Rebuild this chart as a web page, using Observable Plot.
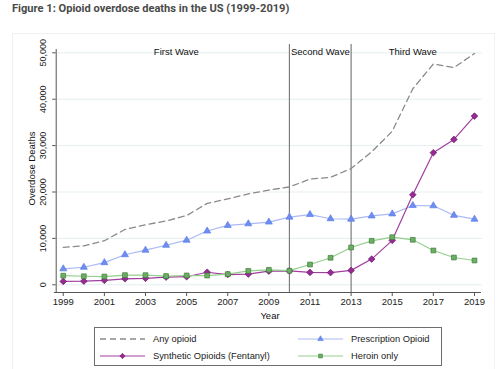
<!DOCTYPE html>
<html>
<head>
<meta charset="utf-8">
<script src="https://cdn.jsdelivr.net/npm/d3@7"></script>
<script src="https://cdn.jsdelivr.net/npm/@observablehq/plot@0.6"></script>
<style>
  body { margin: 0; background: #fff; width: 500px; height: 369px; overflow: hidden; position: relative;
         font-family: "Liberation Sans", Arial, Helvetica, sans-serif; }
  #title { position: absolute; left: 12px; top: 2px; font: bold 11.1px Roboto, "Noto Sans", sans-serif;
           color: #4a4a4a; white-space: nowrap; }
  #panel { position: absolute; left: 12px; top: 33px; width: 483px; height: 345px;
           border: 1px solid #eef2f3; box-sizing: border-box; }
  #chart { position: absolute; left: 12px; top: 33px; }
  #legend { position: absolute; left: 94px; top: 327px; width: 348px; height: 39px;
            border: 1px solid #6e6e6e; box-sizing: border-box; background: #fff; }
  .entry { position: absolute; height: 12px; display: flex; align-items: center;
           font-size: 9.3px; color: #1a1a1a; white-space: nowrap; }
  .entry svg { margin-right: 8px; }
</style>
</head>
<body>
<div id="title">Figure 1: Opioid overdose deaths in the US (1999-2019)</div>
<div id="panel"></div>
<div id="chart"></div>
<div id="legend"></div>
<script>
// Annual opioid overdose deaths in the US
const years = [1999, 2000, 2001, 2002, 2003, 2004, 2005, 2006, 2007, 2008, 2009,
               2010, 2011, 2012, 2013, 2014, 2015, 2016, 2017, 2018, 2019];
const anyOpioid = [8048, 8407, 9496, 11920, 12940, 13756, 14918, 17545, 18516, 19582, 20422,
                   21089, 22784, 23166, 25052, 28647, 33091, 42249, 47600, 46802, 49860];
const prescription = [3442, 3785, 4770, 6483, 7456, 8517, 9612, 11589, 12796, 13149, 13523,
                      14583, 15140, 14240, 14145, 14838, 15281, 17087, 17029, 14975, 14139];
const fentanyl = [730, 782, 957, 1295, 1400, 1664, 1742, 2707, 2213, 2306, 2946,
                  3007, 2666, 2628, 3105, 5544, 9580, 19413, 28466, 31335, 36359];
const heroinOnly = [1960, 1842, 1779, 2089, 2080, 1878, 2009, 1990, 2300, 3000, 3220,
                    3040, 4370, 5820, 8040, 9480, 10260, 9700, 7390, 5880, 5240];

const xTicks = [1999, 2001, 2003, 2005, 2007, 2009, 2011, 2013, 2015, 2017, 2019];
const yTicks = [0, 10000, 20000, 30000, 40000, 50000];
const waves = [
  {label: "First Wave", start: 1999, end: 2010},
  {label: "Second Wave", start: 2010, end: 2013},
  {label: "Third Wave", start: 2013, end: 2019}
];
const waveBreaks = [2010, 2013];

const seriesNames = ["Any opioid", "Prescription Opioid", "Synthetic Opioids (Fentanyl)", "Heroin only"];

const styles = {
  "Any opioid": {line: "#8a8a8a", dash: "6,4"},
  "Prescription Opioid": {line: "#aab9f5", fill: "#6d8ef0", stroke: "#5b7de6", symbol: "triangle", r: 2.6},
  "Synthetic Opioids (Fentanyl)": {line: "#a13f9f", fill: "#962b93", stroke: "#6f1c6d", symbol: "diamond2", r: 3},
  "Heroin only": {line: "#93cf8c", fill: "#6cae63", stroke: "#3f7d3a", symbol: "square", r: 2.7}
};

const table = (name, values) => years.map((year, i) => ({year, deaths: values[i], name}));
const rows = {
  "Any opioid": table("Any opioid", anyOpioid),
  "Prescription Opioid": table("Prescription Opioid", prescription),
  "Synthetic Opioids (Fentanyl)": table("Synthetic Opioids (Fentanyl)", fentanyl),
  "Heroin only": table("Heroin only", heroinOnly)
};

// plot region padded a little beyond the first and last year, and below zero
const xDomain = [1998.72, 2019.39];
const yDomain = [-1660, 51790];
const yAxisTop = 50700;
const axisColor = "#555";

const seriesMarks = name => {
  const s = styles[name];
  const marks = [Plot.line(rows[name], {x: "year", y: "deaths", stroke: s.line,
    strokeWidth: s.dash ? 1.3 : 1.2, strokeDasharray: s.dash})];
  if (s.symbol) marks.push(Plot.dot(rows[name], {x: "year", y: "deaths", symbol: () => s.symbol,
    r: s.r, fill: s.fill, stroke: s.stroke, strokeWidth: 0.7}));
  return marks;
};

const chart = Plot.plot({
  width: 483, height: 289,
  marginLeft: 45, marginRight: 13, marginTop: 11, marginBottom: 30,
  x: {domain: xDomain, axis: null},
  y: {domain: yDomain, axis: null},
  symbol: {type: "identity"},
  style: {fontFamily: '"Liberation Sans", Arial, Helvetica, sans-serif', fontSize: "9.5px",
          color: "#1a1a1a", background: "transparent", overflow: "visible"},
  marks: [
    Plot.ruleY(yTicks, {stroke: "#e4eef0", strokeWidth: 1}),
    Plot.ruleX(waveBreaks, {y1: yDomain[0], y2: yDomain[1], stroke: "#7d7d7d", strokeWidth: 1.2}),
    Plot.text(waves, {x: d => (d.start + d.end) / 2, text: "label", frameAnchor: "top", dy: 4,
                      fontSize: 9.5, fill: "#111"}),
    ...seriesMarks("Any opioid"),
    ...seriesMarks("Prescription Opioid"),
    ...seriesMarks("Synthetic Opioids (Fentanyl)"),
    ...seriesMarks("Heroin only"),
    // axes
    Plot.ruleX([xDomain[0]], {y1: yDomain[0], y2: yAxisTop, dx: -1.3, stroke: axisColor}),
    Plot.axisY(yTicks, {tickSize: 3.5, tickFormat: () => "", dx: -1.3, stroke: axisColor, label: null}),
    Plot.text(yTicks, {y: d => d, text: d => d3.format(",")(d), frameAnchor: "left", dx: -14,
                       rotate: -90, textAnchor: "middle", lineAnchor: "middle", fontSize: 9, fill: "#222"}),
    Plot.text(["Overdose Deaths"], {text: d => d, frameAnchor: "left", dx: -26, rotate: -90,
                                    textAnchor: "middle", lineAnchor: "middle", fontSize: 9.5, fill: "#111"}),
    Plot.ruleY([yDomain[0]], {x1: xDomain[0] - 0.15, x2: xDomain[1] - 0.05, stroke: axisColor}),
    Plot.axisX(xTicks, {tickSize: 4, tickPadding: 2, tickFormat: d => String(d), label: null,
                        stroke: axisColor, fill: "#222", fontSize: 9.5}),
    Plot.text(["Year"], {text: d => d, frameAnchor: "bottom", dy: 23, lineAnchor: "middle",
                         fontSize: 9.5, fill: "#111"})
  ]
});
document.getElementById("chart").append(chart);

// legend: two columns, two rows, with smaller markers
const legend = document.getElementById("legend");
const legendOrder = [
  ["Any opioid", 5, 10.5], ["Prescription Opioid", 203, 10.5],
  ["Synthetic Opioids (Fentanyl)", 5, 27.5], ["Heroin only", 203, 27.5]
];
for (const [name, left, cy] of legendOrder) {
  const s = styles[name];
  const entry = document.createElement("div");
  entry.className = "entry";
  entry.style.left = left + "px";
  entry.style.top = (cy - 6) + "px";
  const svg = d3.create("svg").attr("width", 45).attr("height", 12);
  svg.append("line").attr("x1", 0).attr("x2", 45).attr("y1", 6).attr("y2", 6)
    .attr("stroke", s.line).attr("stroke-width", s.dash ? 1.3 : 1.2)
    .attr("stroke-dasharray", s.dash || null);
  if (s.symbol) {
    const sym = {triangle: d3.symbolTriangle, diamond2: d3.symbolDiamond2, square: d3.symbolSquare}[s.symbol];
    const rr = s.r * 0.8;
    svg.append("path").attr("transform", "translate(22.5,6)")
      .attr("d", d3.symbol(sym, Math.PI * rr * rr)())
      .attr("fill", s.fill).attr("stroke", s.stroke).attr("stroke-width", 0.6);
  }
  entry.append(svg.node());
  const label = document.createElement("span");
  label.textContent = name;
  entry.append(label);
  legend.append(entry);
}
</script>
</body>
</html>
